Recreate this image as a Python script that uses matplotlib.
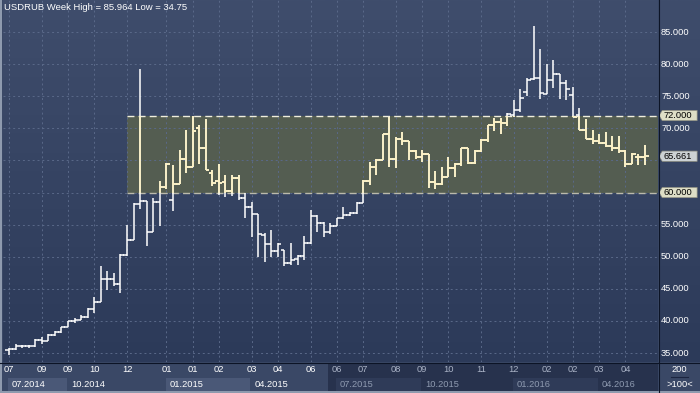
import numpy as np
import matplotlib
matplotlib.use("Agg")
import matplotlib.pyplot as plt
from matplotlib.collections import LineCollection
from matplotlib.colors import LinearSegmentedColormap
from matplotlib.patches import Rectangle, Polygon
from matplotlib.lines import Line2D

plt.rcParams["font.family"] = ["Liberation Sans", "DejaVu Sans"]

# weekly OHLC, USDRUB, Jul 2014 .. Apr 2016
opens = [35.45, 35.65, 36.1, 36.1, 36.1, 37.0, 36.8, 37.8, 38.3, 39.0,
         39.95, 40.2, 40.6, 41.9, 42.9, 46.6, 46.6, 45.7, 50.3, 52.6,
         58.2, 58.7, 53.9, 58.5, 60.8, 58.9, 61.4, 65.2, 64.0, 70.0,
         66.9, 63.0, 61.8, 61.7, 60.3, 62.2, 59.2, 57.8, 56.6, 53.4,
         52.0, 50.9, 51.0, 49.0, 49.6, 50.1, 52.2, 56.3, 55.2, 53.9,
         54.8, 56.0, 56.5, 56.85, 58.4, 61.8, 64.0, 65.1, 69.1, 65.3,
         68.4, 68.1, 66.5, 65.5, 66.0, 61.7, 61.3, 62.5, 63.9, 64.4,
         66.9, 64.6, 66.5, 68.2, 70.5, 71.0, 70.9, 72.1, 72.9, 75.7,
         77.7, 77.9, 75.4, 77.5, 78.4, 77.0, 75.2, 72.1, 69.8, 68.4,
         68.0, 67.7, 67.2, 67.0, 66.4, 64.5, 65.6, 65.6]
highs = [35.75, 36.45, 36.3, 36.3, 37.2, 37.5, 38.0, 38.5, 39.1, 40.0,
         40.4, 40.9, 42.0, 43.8, 48.6, 47.8, 47.4, 50.5, 55.0, 58.4,
         79.2, 58.7, 59.1, 61.8, 64.6, 64.3, 66.7, 69.8, 71.9, 70.5,
         71.4, 63.5, 64.5, 62.7, 62.7, 62.7, 59.9, 58.6, 56.6, 53.7,
         54.2, 52.2, 51.0, 52.1, 50.3, 53.2, 57.3, 56.5, 55.4, 55.2,
         56.1, 57.7, 57.0, 58.5, 61.9, 64.8, 65.2, 69.2, 71.8, 68.7,
         69.5, 68.1, 66.7, 66.7, 66.0, 63.3, 64.0, 65.6, 64.6, 67.0,
         67.0, 66.6, 68.3, 70.5, 71.6, 71.6, 72.4, 74.4, 76.1, 77.9,
         85.964, 82.3, 80.0, 80.7, 78.5, 77.6, 76.4, 73.1, 71.5, 69.7,
         69.2, 69.5, 68.8, 68.8, 66.6, 66.1, 66.0, 67.4]
lows = [34.75, 35.5, 35.75, 35.8, 36.0, 36.4, 36.8, 37.6, 38.1, 39.0,
        39.6, 40.1, 40.4, 41.2, 42.9, 44.8, 45.4, 44.3, 50.1, 52.6,
        57.5, 51.6, 53.8, 54.8, 60.6, 57.2, 61.3, 63.0, 64.0, 64.5,
        63.5, 61.0, 59.6, 59.25, 59.5, 58.8, 56.1, 53.1, 50.0, 49.2,
        50.0, 50.0, 48.55, 48.7, 48.7, 49.5, 52.0, 53.9, 53.1, 53.6,
        54.8, 55.9, 56.3, 56.6, 58.3, 61.2, 62.7, 65.0, 64.0, 63.8,
        67.4, 65.1, 65.3, 64.8, 60.75, 60.6, 61.2, 62.4, 62.4, 64.1,
        64.4, 64.5, 66.3, 67.8, 69.6, 69.1, 70.3, 71.8, 72.6, 75.0,
        77.6, 74.5, 75.3, 76.3, 74.6, 74.4, 71.7, 69.7, 68.3, 67.6,
        67.5, 67.1, 66.4, 66.1, 64.0, 64.5, 64.3, 64.3]
closes = [35.65, 36.1, 36.1, 36.1, 37.0, 36.8, 37.8, 38.3, 39.0, 39.95,
          40.2, 40.6, 41.9, 42.9, 46.6, 46.6, 45.7, 50.3, 52.6, 58.2,
          58.7, 53.9, 58.5, 60.8, 64.5, 61.4, 65.2, 64.0, 69.6, 66.9,
          63.5, 61.5, 61.5, 60.3, 62.2, 59.2, 57.8, 56.6, 53.5, 52.0,
          50.9, 52.0, 49.0, 49.5, 50.1, 52.2, 56.3, 55.2, 53.9, 54.8,
          56.0, 56.5, 56.85, 58.4, 61.8, 64.0, 65.1, 69.1, 65.3, 68.4,
          68.1, 66.5, 65.5, 66.0, 61.7, 61.3, 62.5, 63.9, 64.4, 66.9,
          64.6, 66.5, 68.2, 70.5, 71.0, 70.9, 72.2, 72.9, 74.8, 77.6,
          77.9, 75.45, 77.5, 78.4, 77.0, 76.2, 71.8, 69.8, 68.4, 68.0,
          67.7, 67.2, 67.0, 66.4, 64.5, 66.0, 65.6, 65.661]

# time axis labels (bar index of each grid line)
month_ticks = [0, 5, 9, 13, 18, 24, 28, 32, 37, 41, 46, 50, 54, 59, 63, 67,
               72, 77, 82, 86, 90, 94]
month_labels = ["07", "09", "09", "10", "12", "01", "01", "02", "03", "04",
                "06", "06", "07", "08", "09", "10", "11", "12", "02", "02",
                "03", "04"]
quarter_starts = [0, 9, 24, 37, 50, 63, 77, 90]
quarter_labels = ["07.2014", "10.2014", "01.2015", "04.2015",
                  "07.2015", "10.2015", "01.2016", "04.2016"]
price_ticks = [35, 40, 45, 50, 55, 60, 65, 70, 75, 80, 85]

band_low, band_high = 60.0, 72.0
band_start = 18
last_price = 65.661

W, H = 700, 393
XMIN, XMAX = -0.92, 98.98
YMIN, YMAX = 33.6, 90.0
DARK_FROM = 48.6
TICK = 0.55

BG_TOP, BG_BOT = "#3f4d6c", "#2c3a59"
STRIP = "#3a4866"
BAR_OUT, BAR_IN = "#ffffff", "#fff2c0"

fig = plt.figure(figsize=(7, 3.93), dpi=100)
fig.patch.set_facecolor(STRIP)


def px(x0, y0, x1, y1):
    return [x0 / W, 1 - y1 / H, (x1 - x0) / W, (y1 - y0) / H]


ax = fig.add_axes(px(3, 0, 658, 362))
ax_r = fig.add_axes(px(659, 0, 700, 362))
ax_b = fig.add_axes(px(3, 363, 658, 391))
ax_c = fig.add_axes(px(659, 363, 700, 391))

bg_cmap = LinearSegmentedColormap.from_list("bg", [BG_BOT, BG_TOP])
grad = np.linspace(0, 1, 256)[:, None]

# main price panel
ax.imshow(grad, extent=(XMIN, XMAX, YMIN, YMAX), origin="lower",
          aspect="auto", cmap=bg_cmap, zorder=0)
ax.set_xlim(XMIN, XMAX)
ax.set_ylim(YMIN, YMAX)
ax.set_xticks(month_ticks)
ax.set_yticks(price_ticks)
ax.grid(True, color="#5a6989", lw=0.7, ls=(0, (2, 3)))
ax.tick_params(length=0, labelbottom=False, labelleft=False)
for s in ax.spines.values():
    s.set_visible(False)

band = Rectangle((band_start, band_low), XMAX - band_start, band_high - band_low,
                 facecolor="#545d51", edgecolor="none", zorder=1)
ax.add_patch(band)
ax.plot([band_start, XMAX], [band_high, band_high], color="#efeedd", lw=1.0,
        ls=(0, (5, 3)), zorder=2.5)
ax.plot([band_start, XMAX], [band_low, band_low], color="#bbbaac", lw=1.0,
        ls=(0, (5, 3)), zorder=2.5)

segs = []
for i, (o, h, l, c) in enumerate(zip(opens, highs, lows, closes)):
    segs.append([(i, l), (i, h)])
    segs.append([(i - TICK, o), (i, o)])
    segs.append([(i, c), (i + TICK, c)])

ax.add_collection(LineCollection(segs, colors=BAR_OUT, linewidths=1.1, zorder=3))
lc_in = LineCollection(segs, colors=BAR_IN, linewidths=1.1, zorder=3.1)
ax.add_collection(lc_in)
lc_in.set_clip_path(band)

fig.text(4 / W, 1 - 8 / H, "USDRUB Week High = 85.964 Low = 34.75",
         color="white", fontsize=6.8, ha="left", va="center")

# right price scale
ax_r.imshow(grad, extent=(0, 1, YMIN, YMAX), origin="lower", aspect="auto",
            cmap=bg_cmap, zorder=0)
ax_r.set_xlim(0, 1)
ax_r.set_ylim(YMIN, YMAX)
ax_r.axis("off")
marked = [band_high, band_low, last_price]
for v in price_ticks:
    # labels sitting under a marker box are hidden in the original
    if min(abs(v - m) for m in marked) < 1.3:
        continue
    ax_r.text(0.05, v, f"{v:.3f}", color="white", fontsize=6.7,
              ha="left", va="center", zorder=2)

for v, fc in [(band_high, "#dedec6"), (band_low, "#dedec6"), (last_price, "#ccd2d4")]:
    poly = Polygon([(0.0, v), (0.08, v + 0.8), (0.93, v + 0.8),
                    (0.93, v - 0.8), (0.08, v - 0.8)], closed=True,
                   facecolor=fc, edgecolor="#8e8e80", lw=0.5, zorder=3)
    ax_r.add_patch(poly)
    ax_r.text(0.1, v, f"{v:.3f}", color="black", fontsize=6.7,
              ha="left", va="center", zorder=4)

# time strip
ax_b.set_xlim(XMIN, XMAX)
ax_b.set_ylim(0, 28)
ax_b.axis("off")
ax_b.add_patch(Rectangle((XMIN, 0), DARK_FROM - XMIN, 28, facecolor=STRIP,
                         edgecolor="none", zorder=0))
ax_b.add_patch(Rectangle((DARK_FROM, 0), XMAX - DARK_FROM, 28, facecolor="#27324d",
                         edgecolor="none", zorder=0))
q_ends = quarter_starts[1:] + [XMAX + 0.2]
for k, (q0, q1, lab) in enumerate(zip(quarter_starts, q_ends, quarter_labels)):
    dark = q0 >= DARK_FROM
    if k % 2 == 0:
        ax_b.add_patch(Rectangle((q0 - 0.1, 0), q1 - q0 - 0.1, 13,
                                 facecolor="#2f3b58" if dark else "#4a5877",
                                 edgecolor="none", zorder=1))
    ax_b.text(q0 + 0.45, 6.5, lab, color="#8e9ab0" if dark else "white",
              fontsize=6.7, ha="left", va="center", zorder=2)
for t, lab in zip(month_ticks, month_labels):
    ax_b.text(t, 21.5, lab, color="#aab3c6" if t >= DARK_FROM else "white",
              fontsize=6.7, ha="center", va="center", zorder=2)

# corner box
ax_c.set_xlim(0, 1)
ax_c.set_ylim(0, 1)
ax_c.set_facecolor(STRIP)
ax_c.set_xticks([])
ax_c.set_yticks([])
for s in ax_c.spines.values():
    s.set_visible(False)
ax_c.text(0.5, 0.76, "200", color="white", fontsize=6.7, ha="center", va="center")
ax_c.plot([0.3, 0.7], [0.5, 0.5], color="#1c2540", lw=0.8)
ax_c.text(0.5, 0.24, ">100<", color="white", fontsize=6.7, ha="center", va="center")

# separators and frame
fig.add_artist(Line2D([658.5 / W, 658.5 / W], [0, 1], color="#0c1426", lw=0.8,
                      transform=fig.transFigure))
fig.add_artist(Line2D([0, 1], [1 - 362.5 / H, 1 - 362.5 / H], color="#0c1426",
                      lw=0.8, transform=fig.transFigure))
fig.add_artist(Rectangle((0, 0), 2 / W, 1, transform=fig.transFigure,
                         facecolor="#8e9aae", edgecolor="none"))
fig.add_artist(Rectangle((0, 0), 1, 2 / H, transform=fig.transFigure,
                         facecolor="#8e9aae", edgecolor="none"))

fig.savefig("out.png", dpi=100)
plt.close(fig)
